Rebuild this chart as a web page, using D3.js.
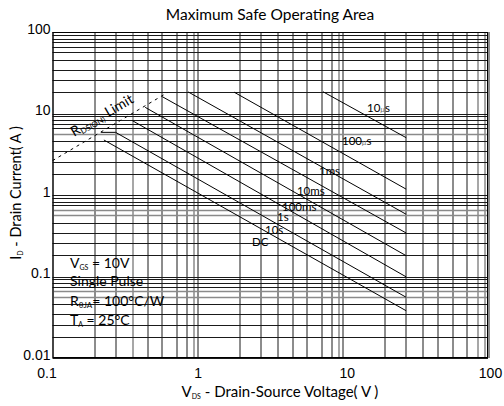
<!DOCTYPE html>
<html>
<head>
<meta charset="utf-8">
<script src="https://cdn.jsdelivr.net/npm/d3@7"></script>
<style>
  body { margin: 0; background: #fff; }
  .tick text, .num { font-family: "Liberation Sans", Arial, sans-serif; }
  .lbl { font-family: Lato, "Open Sans", sans-serif; }
</style>
</head>
<body>
<div id="chart"></div>
<script>
// axis ticks
const xTicks = [0.1, 1, 10, 100];
const xTickLabels = ["0.1", "1", "10", "100"];
const yTicks = [0.01, 0.1, 1, 10, 100];
const yTickLabels = ["0.01", "0.1", "1", "10", "100"];

// grid lines inside each decade (read off the picture, not a clean log grid)
const xDecades = [0.1, 1, 10];
const xGridSteps = [1.95, 2.72, 3.56, 4.52, 5.65, 7.16, 8.4, 9.4];
const xGridGray = [0.356, 0.94, 9.4, 84, 94];
const yDecades = [0.01, 0.1, 1, 10];
const yGridSteps = [1.82, 2.57, 3.43, 4.57, 5.62, 6.6, 7.5, 8.3, 9.2];
const yGridGray = [0.0562, 0.066, 0.562, 0.66, 5.62];

// SOA curves, [V, I] points
const curveNames = ["10μs", "100μs", "1ms", "10ms", "100ms", "1s", "10s", "DC"];
const curve10us = [[7.3, 18.5], [27.3, 5.05]];
const curve100us = [[1.78, 18.3], [27.3, 1.18]];
const curve1ms = [[0.86, 18.4], [27.3, 0.58]];
const curve10ms = [[0.57, 16.1], [27.3, 0.342]];
const curve100ms = [[0.435, 11.9], [27.3, 0.18]];
const curve1s = [[0.355, 8.17], [27.3, 0.099]];
const curve10s = [[0.216, 5.87], [0.272, 5.87], [27.3, 0.0556]];
const curveDC = [[0.226, 4.73], [27.3, 0.038]];
const curves = [curve10us, curve100us, curve1ms, curve10ms, curve100ms, curve1s, curve10s, curveDC];
// where each curve label sits, [V, I]
const labelPos = [[14.7, 10.4], [9.87, 4.1], [6.85, 1.76], [4.83, 1.0], [3.81, 0.637], [3.52, 0.48], [2.91, 0.332], [2.37, 0.237]];

// R_DS(on) limit line
const rdsLimit = [[0.1, 2.64], [0.618, 18]];

// set the dimensions and margins of the graph
const margin = { top: 32, right: 16, bottom: 48, left: 52.5 },
    width = 504 - margin.left - margin.right,
    height = 406 - margin.top - margin.bottom;

const svg = d3.select("#chart")
    .append("svg")
    .attr("width", 504)
    .attr("height", 406)
    .append("g")
    .attr("transform", `translate(${margin.left},${margin.top})`);

const x = d3.scaleLog().domain([0.1, 100]).range([0, width]);
const y = d3.scaleLog().domain([0.01, 100]).range([height, 0]);

// grid
const xGrid = xDecades.flatMap(d => xGridSteps.map(s => d * s));
const yGrid = yDecades.flatMap(d => yGridSteps.map(s => d * s));
const isGray = (list, v) => list.some(g => Math.abs(g - v) / g < 0.01);

svg.append("g").selectAll("line")
    .data(xGrid.concat(xTicks))
    .join("line")
    .attr("x1", d => Math.round(x(d)) + 0.5)
    .attr("x2", d => Math.round(x(d)) + 0.5)
    .attr("y1", 0)
    .attr("y2", height)
    .attr("stroke", d => isGray(xGridGray, d) ? "#8a8a8a" : "#1a1a1a")
    .attr("stroke-width", d => isGray(xGridGray, d) ? 1.5 : 1);

svg.append("g").selectAll("line")
    .data(yGrid.concat(yTicks))
    .join("line")
    .attr("x1", 0)
    .attr("x2", width)
    .attr("y1", d => Math.round(y(d)) + 0.5)
    .attr("y2", d => Math.round(y(d)) + 0.5)
    .attr("stroke", d => isGray(yGridGray, d) ? "#8a8a8a" : "#1a1a1a")
    .attr("stroke-width", d => isGray(yGridGray, d) ? 1.5 : 1);

// frame
svg.append("rect")
    .attr("x", 0.5).attr("y", 0.5)
    .attr("width", width - 1).attr("height", height - 1)
    .attr("fill", "none")
    .attr("stroke", "#000");

// Add X axis
svg.append("g")
    .attr("transform", `translate(0, ${height})`)
    .call(d3.axisBottom(x).tickValues(xTicks).tickSize(0).tickPadding(10)
        .tickFormat((d, i) => xTickLabels[i]))
    .call(g => g.select(".domain").remove())
    .selectAll("text")
    .attr("font-size", 14)
    .attr("fill", "#000")
    .attr("dx", (d, i) => [-6, 0, 4, 2][i]);

// Add Y axis
svg.append("g")
    .call(d3.axisLeft(y).tickValues(yTicks).tickSize(0).tickPadding(2)
        .tickFormat((d, i) => yTickLabels[i]))
    .call(g => g.select(".domain").remove())
    .selectAll("text")
    .attr("font-size", 14)
    .attr("fill", "#000")
    .attr("dy", "0.1em");

// the curves
const line = d3.line().x(d => x(d[0])).y(d => y(d[1]));
svg.append("g").selectAll("path")
    .data(curves)
    .join("path")
    .attr("fill", "none")
    .attr("stroke", "#000")
    .attr("stroke-width", 1)
    .attr("d", line);

svg.append("path")
    .datum(rdsLimit)
    .attr("fill", "none")
    .attr("stroke", "#000")
    .attr("stroke-dasharray", "3,4")
    .attr("d", line);

// curve labels
const labels = svg.append("g").selectAll("text")
    .data(curveNames)
    .join("text")
    .attr("class", "lbl")
    .attr("x", (d, i) => x(labelPos[i][0]))
    .attr("y", (d, i) => y(labelPos[i][1]))
    .attr("font-size", 11.5)
    .attr("fill", "#000");
labels.each(function (d) {
    const t = d3.select(this);
    if (d.includes("μ")) {
        const parts = d.split("μ");
        t.append("tspan").text(parts[0]);
        t.append("tspan").attr("font-size", 8).attr("font-style", "italic").attr("fill", "#777").text("μ");
        t.append("tspan").text(parts[1]);
    } else {
        t.text(d);
    }
});

// R_DS(on) label
const rds = svg.append("text")
    .attr("class", "lbl")
    .attr("transform", `translate(${74 - margin.left},${137 - margin.top}) rotate(-30)`)
    .attr("font-size", 14)
    .attr("fill", "#000");
rds.append("tspan").text("R");
rds.append("tspan").attr("font-size", 8).attr("dy", 2).text("DS(ON)");
rds.append("tspan").attr("dy", -2).text(" Limit");

// conditions
const cond = svg.append("g").attr("class", "lbl").attr("font-size", 14).attr("fill", "#000");
const c1 = cond.append("text").attr("x", 70 - margin.left).attr("y", 268 - margin.top);
c1.append("tspan").text("V");
c1.append("tspan").attr("font-size", 7).attr("dy", 2).text("GS");
c1.append("tspan").attr("dy", -2).text(" = 10V");
cond.append("text").attr("x", 70 - margin.left).attr("y", 286 - margin.top).text("Single Pulse");
const c3 = cond.append("text").attr("x", 70 - margin.left).attr("y", 306 - margin.top);
c3.append("tspan").text("R");
c3.append("tspan").attr("font-size", 8).attr("dy", 2).text("θJA");
c3.append("tspan").attr("dy", -2).text("= 100°C/W");
const c4 = cond.append("text").attr("x", 70 - margin.left).attr("y", 325 - margin.top);
c4.append("tspan").text("T");
c4.append("tspan").attr("font-size", 7).attr("dy", 2).text("A");
c4.append("tspan").attr("dy", -2).text("  = 25°C");

// title
svg.append("text")
    .attr("class", "lbl")
    .attr("x", 270 - margin.left)
    .attr("y", 20 - margin.top)
    .attr("text-anchor", "middle")
    .attr("font-size", 15.5)
    .attr("fill", "#000")
    .text("Maximum Safe Operating Area");

// x axis title
const xt = svg.append("text")
    .attr("class", "lbl")
    .attr("x", 280 - margin.left)
    .attr("y", 397 - margin.top)
    .attr("text-anchor", "middle")
    .attr("font-size", 15)
    .attr("fill", "#000");
xt.append("tspan").text("V");
xt.append("tspan").attr("font-size", 7).attr("dy", 2).text("DS");
xt.append("tspan").attr("dy", -2).text("  - Drain-Source Voltage( V )");

// y axis title
const yt = svg.append("text")
    .attr("class", "lbl")
    .attr("transform", `translate(${21 - margin.left},${193 - margin.top}) rotate(-90)`)
    .attr("text-anchor", "middle")
    .attr("font-size", 14.5)
    .attr("fill", "#000");
yt.append("tspan").text("I");
yt.append("tspan").attr("font-size", 7).attr("dy", 2).text("D");
yt.append("tspan").attr("dy", -2).text("  - Drain Current( A )");
</script>
</body>
</html>
